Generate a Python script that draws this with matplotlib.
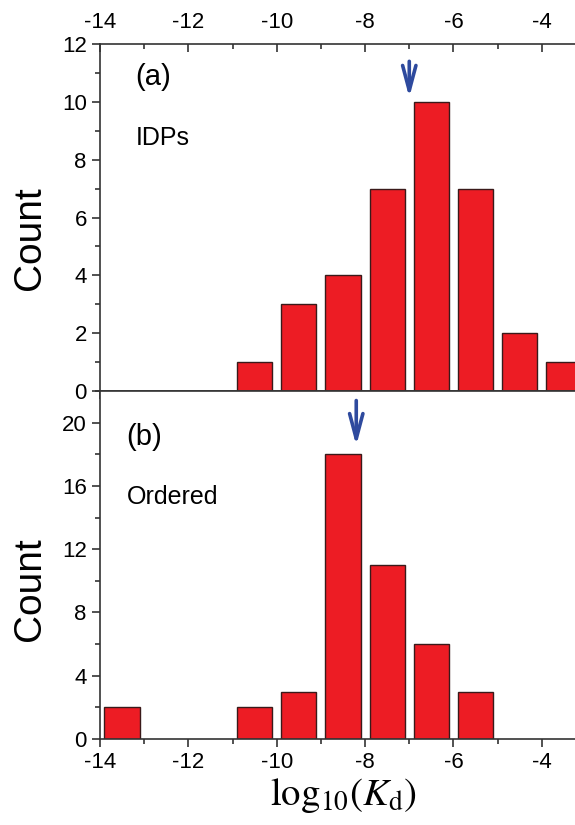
import numpy as np
import matplotlib
matplotlib.use('Agg')
import matplotlib.pyplot as plt
from matplotlib.ticker import MultipleLocator

plt.rcParams['font.family'] = ['Liberation Sans', 'DejaVu Sans']
plt.rcParams['mathtext.fontset'] = 'stix'
plt.rcParams['axes.unicode_minus'] = False

# Histogram data: bin centres (log10 Kd) and counts
idp_centers = [-10.5, -9.5, -8.5, -7.5, -6.5, -5.5, -4.5, -3.5]
idp_counts = [1, 3, 4, 7, 10, 7, 2, 1]
ord_centers = [-13.5, -10.5, -9.5, -8.5, -7.5, -6.5, -5.5]
ord_counts = [2, 2, 3, 18, 11, 6, 3]

# Median markers (arrows)
idp_median = -7.0
ord_median = -8.2

bar_color = '#ED1C24'
arrow_color = '#2E4A9E'
spine_color = '#333333'

fig = plt.figure(figsize=(5.75, 8.25), dpi=100)
left, width = 100 / 575, 486 / 575
ax1 = fig.add_axes([left, 0.526, width, 0.9467 - 0.526])
ax2 = fig.add_axes([left, 0.1042, width, 0.526 - 0.1042])


def style_ticks(axis_obj):
    axis_obj.set_major_locator(MultipleLocator(2))
    axis_obj.set_minor_locator(MultipleLocator(1))


for ax in (ax1, ax2):
    ax.set_xlim(-14, -3)
    style_ticks(ax.xaxis)
    for sp in ax.spines.values():
        sp.set_linewidth(1.2)
        sp.set_color(spine_color)
    ax.tick_params(which='both', color=spine_color, width=1.2)
    ax.tick_params(which='major', length=6, labelsize=16)
    ax.tick_params(which='minor', length=3.5)
    ax.set_ylabel('Count', fontsize=28)

arrow_kw = dict(arrowstyle='->,head_width=0.24,head_length=0.9',
                color=arrow_color, lw=2.6, mutation_scale=20,
                shrinkA=0, shrinkB=0)

# Panel (a)
ax1.bar(idp_centers, idp_counts, width=0.8, color=bar_color, edgecolor='#3a1a1a', linewidth=1)
ax1.set_ylim(0, 12)
ax1.yaxis.set_major_locator(MultipleLocator(2))
ax1.yaxis.set_minor_locator(MultipleLocator(1))
ax1.tick_params(axis='y', which='both', direction='out')
# top axis: labels on top, ticks pointing inward
ax1.tick_params(axis='x', which='both', direction='in', top=True, bottom=False,
                labeltop=True, labelbottom=False, pad=8)
# bottom of panel (a): ticks pointing down, no labels
sec = ax1.secondary_xaxis('bottom')
style_ticks(sec.xaxis)
sec.tick_params(which='both', direction='out', color=spine_color, width=1.2, labelbottom=False)
sec.tick_params(which='major', length=6)
sec.tick_params(which='minor', length=3.5)
sec.spines['bottom'].set_visible(False)

ax1.text(-13.2, 10.87, '(a)', fontsize=21, va='center', ha='left')
ax1.text(-13.2, 8.75, 'IDPs', fontsize=18, va='center', ha='left')
ax1.annotate('', xy=(idp_median, 10.15), xytext=(idp_median, 11.4), arrowprops=arrow_kw)
ax1.yaxis.set_label_coords(-0.107, 0.44)

# Panel (b)
ax2.bar(ord_centers, ord_counts, width=0.8, color=bar_color, edgecolor='#3a1a1a', linewidth=1)
ax2.set_ylim(0, 22)
ax2.yaxis.set_major_locator(MultipleLocator(4))
ax2.yaxis.set_minor_locator(MultipleLocator(2))
ax2.tick_params(axis='both', which='both', direction='out')
ax2.text(-13.4, 19.1, '(b)', fontsize=21, va='center', ha='left')
ax2.text(-13.4, 15.3, 'Ordered', fontsize=18, va='center', ha='left')
ax2.annotate('', xy=(ord_median, 18.55), xytext=(ord_median, 21.4), arrowprops=arrow_kw)
ax2.set_xlabel(r'$\mathrm{log}_{10}(K_{\mathrm{d}})$', fontsize=28, labelpad=2)
ax2.yaxis.set_label_coords(-0.107, 0.43)

fig.savefig('out.png', dpi=100)
